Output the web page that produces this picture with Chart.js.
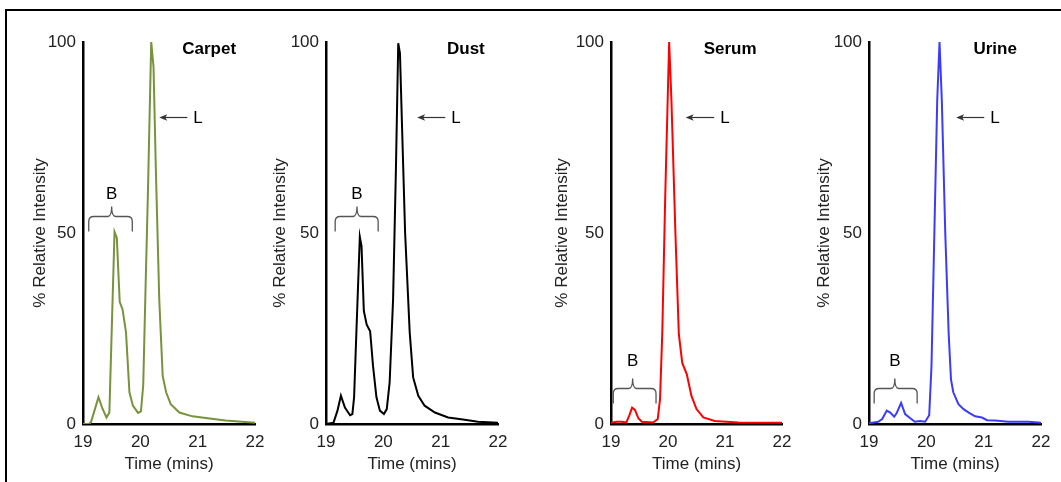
<!DOCTYPE html>
<html><head><meta charset="utf-8">
<script src="https://cdn.jsdelivr.net/npm/chart.js@4.4.1/dist/chart.umd.min.js"></script>
<style>
html,body{margin:0;padding:0;background:#fff;width:1061px;height:482px;overflow:hidden;}
#frame{position:absolute;left:5px;top:8.5px;width:1100px;height:520px;border-left:2.5px solid #000;border-top:2.5px solid #000;}
.panel{position:absolute;top:0;height:482px;}
</style></head><body>
<div id="frame"></div>
<div class="panel" id="p0"><canvas id="c0"></canvas></div>
<div class="panel" id="p1"><canvas id="c1"></canvas></div>
<div class="panel" id="p2"><canvas id="c2"></canvas></div>
<div class="panel" id="p3"><canvas id="c3"></canvas></div>
<script>
// ---- data ----
const sampleNames = ['Carpet', 'Dust', 'Serum', 'Urine'];
const xTicks = [19, 20, 21, 22];
const yTicks = [0, 50, 100];
const xTitle = 'Time (mins)';
const yTitle = '% Relative Intensity';

const carpetTime = [19.0, 19.1, 19.14, 19.2, 19.27, 19.34, 19.41, 19.46, 19.55, 19.59, 19.64, 19.69, 19.75, 19.81, 19.87, 19.96, 20.01, 20.05, 20.09, 20.13, 20.19, 20.23, 20.27, 20.33, 20.39, 20.45, 20.53, 20.68, 20.91, 21.14, 21.49, 22.0];
const carpetIntensity = [0, 0, 0.5, 3.5, 7, 4, 1.7, 3, 50.3, 48.7, 32, 30, 24, 8.3, 4.8, 2.9, 3.3, 10, 35, 59, 100, 93.5, 67, 32.6, 12.6, 8.3, 5.2, 3, 2, 1.6, 0.9, 0.3];

const dustTime = [19.0, 19.13, 19.2, 19.26, 19.33, 19.42, 19.46, 19.49, 19.53, 19.59, 19.62, 19.66, 19.71, 19.77, 19.82, 19.88, 19.94, 20.01, 20.06, 20.11, 20.17, 20.22, 20.26, 20.29, 20.33, 20.38, 20.46, 20.52, 20.61, 20.72, 20.9, 21.13, 21.42, 21.65, 22.0];
const dustIntensity = [0, 0.3, 3.5, 7.4, 4.3, 2.3, 2.6, 7, 24, 49, 46.5, 29.6, 26, 24.3, 15.2, 7, 3.5, 2.6, 3.9, 10.9, 32.6, 67, 99.7, 97, 76, 50, 24, 12.2, 7.4, 4.8, 3, 1.7, 1.1, 0.6, 0.3];

const serumTime = [19.0, 19.1, 19.19, 19.27, 19.32, 19.37, 19.42, 19.48, 19.54, 19.74, 19.82, 19.86, 19.9, 19.95, 20.02, 20.06, 20.13, 20.19, 20.25, 20.33, 20.41, 20.5, 20.62, 20.82, 21.23, 22.0];
const serumIntensity = [0.3, 0.6, 0.6, 0.4, 2.2, 4.3, 3.7, 1.5, 0.6, 0.4, 1.3, 6.5, 24, 58.7, 100, 84.8, 50, 23.5, 16, 13, 7.4, 3.9, 1.7, 0.8, 0.4, 0.3];

const urineTime = [19.0, 19.16, 19.23, 19.31, 19.37, 19.44, 19.48, 19.56, 19.63, 19.72, 19.8, 19.89, 19.98, 20.05, 20.09, 20.14, 20.19, 20.23, 20.27, 20.33, 20.39, 20.43, 20.47, 20.56, 20.65, 20.74, 20.85, 20.97, 21.06, 21.2, 21.43, 21.78, 22.0];
const urineIntensity = [0.2, 0.6, 1.3, 3.5, 3, 1.9, 2.8, 5.5, 2.6, 1.5, 0.6, 0.8, 0.6, 2.3, 15.2, 50, 84.8, 100, 84.8, 50, 23.5, 11.7, 8.3, 5.2, 3.9, 3, 2, 1.7, 1, 0.9, 0.6, 0.6, 0.3];

// annotation anchors (data units): name label, L arrow, B bracket
const nameTime = [21.2, 21.44, 21.09, 21.2];
const nameValue = [98, 98, 98, 98];
const arrowTipTime = [20.33, 20.59, 20.31, 20.52];
const arrowTailTime = [20.82, 21.08, 20.81, 21.01];
const arrowValue = [80.4, 80.4, 80.4, 80.4];
const bracketStart = [19.1, 19.16, 19.04, 19.09];
const bracketEnd = [19.86, 19.91, 19.79, 19.84];
const bracketMid = [19.5, 19.54, 19.38, 19.45];
const bracketValue = [54.5, 54.5, 9.4, 9.4];
const bLabelValue = [60.2, 60.2, 16.4, 16.4];

// ---- layout / style ----
const seriesTime = [carpetTime, dustTime, serumTime, urineTime];
const seriesIntensity = [carpetIntensity, dustIntensity, serumIntensity, urineIntensity];
const colors = ['#77933C', '#000000', '#FF0000', '#3B3BFF'];
const axisX = [83, 326, 611, 869];
const plotW = [172, 172, 171, 172];
const yAxisW = [57, 60, 63, 59];
const rightPad = 20;
const FONT = 'Arial, "Liberation Sans", sans-serif';

function makeNotes(i) {
  return {
    id: 'notes' + i,
    afterDatasetsDraw(chart) {
      const ctx = chart.ctx, xs = chart.scales.x, ys = chart.scales.y;
      ctx.save();
      // sample name
      ctx.fillStyle = '#000';
      ctx.font = 'bold 17px ' + FONT;
      ctx.textAlign = 'center';
      ctx.textBaseline = 'middle';
      ctx.fillText(sampleNames[i], xs.getPixelForValue(nameTime[i]), ys.getPixelForValue(nameValue[i]));
      // arrow L
      const tipX = xs.getPixelForValue(arrowTipTime[i]);
      const tailX = xs.getPixelForValue(arrowTailTime[i]);
      const ay = Math.round(ys.getPixelForValue(arrowValue[i])) + 0.5;
      ctx.strokeStyle = '#333';
      ctx.fillStyle = '#333';
      ctx.lineWidth = 1.2;
      ctx.beginPath();
      ctx.moveTo(tipX + 4, ay);
      ctx.lineTo(tailX, ay);
      ctx.stroke();
      ctx.beginPath();
      ctx.moveTo(tipX, ay);
      ctx.lineTo(tipX + 8, ay - 3.2);
      ctx.lineTo(tipX + 6, ay);
      ctx.lineTo(tipX + 8, ay + 3.2);
      ctx.closePath();
      ctx.fill();
      ctx.fillStyle = '#000';
      ctx.font = '17px ' + FONT;
      ctx.textAlign = 'left';
      ctx.fillText('L', tailX + 6, ay + 1);
      // bracket B
      const l = xs.getPixelForValue(bracketStart[i]);
      const r = xs.getPixelForValue(bracketEnd[i]);
      const m = xs.getPixelForValue(bracketMid[i]);
      const t = Math.round(ys.getPixelForValue(bracketValue[i])) + 0.5;
      ctx.strokeStyle = '#555';
      ctx.lineWidth = 1.3;
      ctx.beginPath();
      ctx.moveTo(l, t + 15);
      ctx.lineTo(l, t + 5);
      ctx.quadraticCurveTo(l, t, l + 5, t);
      ctx.lineTo(m - 4, t);
      ctx.quadraticCurveTo(m, t, m, t - 10);
      ctx.quadraticCurveTo(m, t, m + 4, t);
      ctx.lineTo(r - 5, t);
      ctx.quadraticCurveTo(r, t, r, t + 5);
      ctx.lineTo(r, t + 15);
      ctx.stroke();
      ctx.fillStyle = '#000';
      ctx.textAlign = 'center';
      ctx.fillText('B', m, ys.getPixelForValue(bLabelValue[i]));
      ctx.restore();
    }
  };
}

for (let i = 0; i < 4; i++) {
  const w = yAxisW[i] + plotW[i] + rightPad;
  const div = document.getElementById('p' + i);
  div.style.left = (axisX[i] - yAxisW[i]) + 'px';
  div.style.width = w + 'px';
  const cv = document.getElementById('c' + i);
  cv.width = w; cv.height = 482;
  cv.style.width = w + 'px'; cv.style.height = '482px';
  const pts = seriesTime[i].map((t, k) => ({ x: t, y: seriesIntensity[i][k] }));
  new Chart(cv, {
    type: 'line',
    data: { datasets: [{ data: pts, borderColor: colors[i], borderWidth: 2, pointRadius: 0, tension: 0, fill: false }] },
    options: {
      responsive: false, animation: false, devicePixelRatio: 1,
      layout: { padding: { top: 42, bottom: 1, left: 0, right: rightPad } },
      plugins: { legend: { display: false }, tooltip: { enabled: false }, title: { display: false } },
      scales: {
        x: {
          type: 'linear', min: 19, max: 22,
          afterBuildTicks: s => { s.ticks = xTicks.map(v => ({ value: v })); },
          afterFit: s => { s.height = 57; },
          grid: { display: false, drawTicks: false },
          border: { display: true, color: '#000', width: 2.5 },
          ticks: { color: '#222', padding: 8, font: { size: 17, family: FONT }, maxRotation: 0 },
          title: { display: true, text: xTitle, color: '#222', font: { size: 17, family: FONT }, padding: { top: 0, bottom: 6 } }
        },
        y: {
          min: 0, max: 100,
          afterBuildTicks: s => { s.ticks = yTicks.map(v => ({ value: v })); },
          afterFit: s => { s.width = yAxisW[i]; },
          grid: { display: false, drawTicks: false },
          border: { display: true, color: '#000', width: 2.5 },
          ticks: { color: '#222', padding: 7, font: { size: 17, family: FONT } },
          title: { display: true, text: yTitle, color: '#222', font: { size: 17, family: FONT }, padding: { top: 4, bottom: 0 } }
        }
      }
    },
    plugins: [makeNotes(i)]
  });
}
</script>
</body></html>
